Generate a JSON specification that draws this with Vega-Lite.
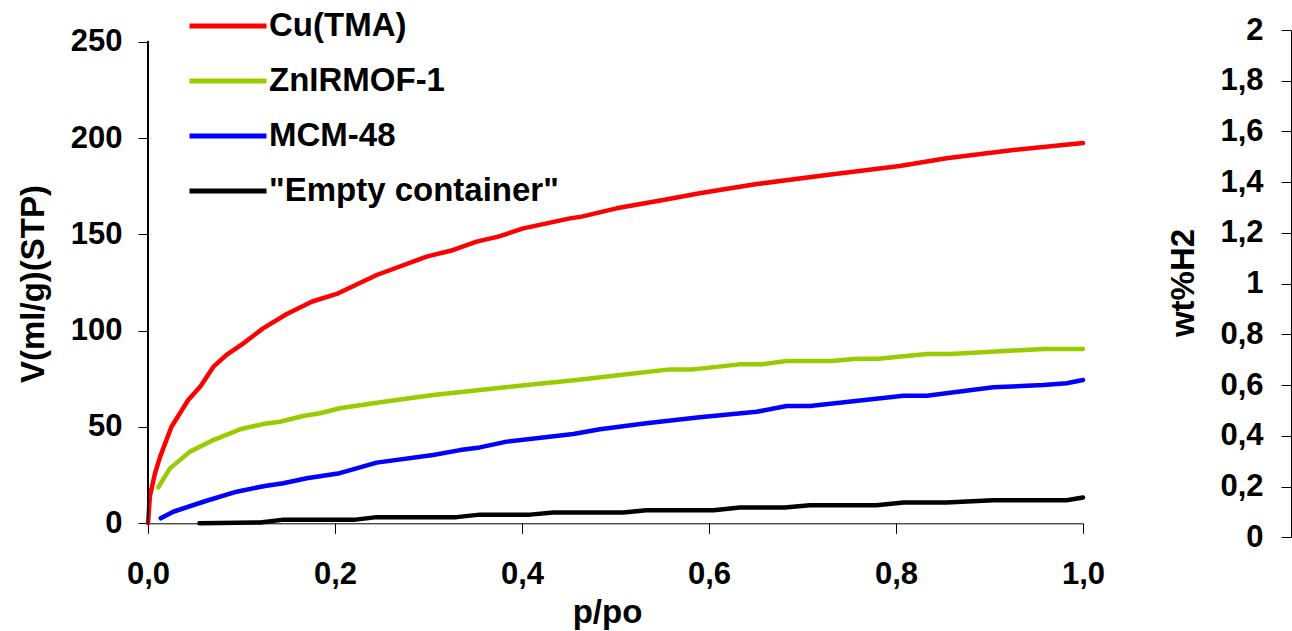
{
  "$schema": "https://vega.github.io/schema/vega-lite/v6.json",
  "width": 935,
  "height": 507.3,
  "autosize": {"type": "none"},
  "padding": {"left": 148, "top": 30, "right": 209, "bottom": 93.7},
  "background": "white",
  "config": {
    "view": {"stroke": null},
    "font": "Liberation Sans",
    "axis": {"grid": false, "domainColor": "black", "tickColor": "black", "domainWidth": 1, "tickWidth": 1, "labelColor": "black", "titleColor": "black", "labelFont": "Liberation Sans", "titleFont": "Liberation Sans", "labelFontWeight": "bold", "titleFontWeight": "bold"}
  },
  "layer": [
    {
      "data": {"values": [
        {"s": "Cu(TMA)", "p": 0, "v": 0},
        {"s": "Cu(TMA)", "p": 0.002, "v": 14},
        {"s": "Cu(TMA)", "p": 0.0075, "v": 26},
        {"s": "Cu(TMA)", "p": 0.013, "v": 34.6},
        {"s": "Cu(TMA)", "p": 0.025, "v": 50},
        {"s": "Cu(TMA)", "p": 0.043, "v": 64},
        {"s": "Cu(TMA)", "p": 0.056, "v": 71},
        {"s": "Cu(TMA)", "p": 0.07, "v": 81.3},
        {"s": "Cu(TMA)", "p": 0.084, "v": 87.4},
        {"s": "Cu(TMA)", "p": 0.102, "v": 93.4},
        {"s": "Cu(TMA)", "p": 0.123, "v": 101.2},
        {"s": "Cu(TMA)", "p": 0.148, "v": 108.5},
        {"s": "Cu(TMA)", "p": 0.175, "v": 115},
        {"s": "Cu(TMA)", "p": 0.2035, "v": 119.4},
        {"s": "Cu(TMA)", "p": 0.2446, "v": 128.9},
        {"s": "Cu(TMA)", "p": 0.298, "v": 138.4},
        {"s": "Cu(TMA)", "p": 0.3266, "v": 141.9},
        {"s": "Cu(TMA)", "p": 0.3515, "v": 146.2},
        {"s": "Cu(TMA)", "p": 0.3747, "v": 148.8},
        {"s": "Cu(TMA)", "p": 0.4014, "v": 153.1},
        {"s": "Cu(TMA)", "p": 0.4264, "v": 155.7},
        {"s": "Cu(TMA)", "p": 0.4513, "v": 158.3},
        {"s": "Cu(TMA)", "p": 0.4638, "v": 159.2},
        {"s": "Cu(TMA)", "p": 0.501, "v": 163.5},
        {"s": "Cu(TMA)", "p": 0.551, "v": 167.8},
        {"s": "Cu(TMA)", "p": 0.59, "v": 171.3},
        {"s": "Cu(TMA)", "p": 0.651, "v": 176.1},
        {"s": "Cu(TMA)", "p": 0.726, "v": 180.8},
        {"s": "Cu(TMA)", "p": 0.804, "v": 185.5},
        {"s": "Cu(TMA)", "p": 0.854, "v": 189.5},
        {"s": "Cu(TMA)", "p": 0.9255, "v": 193.8},
        {"s": "Cu(TMA)", "p": 1.0, "v": 197.4},
        {"s": "ZnIRMOF-1", "p": 0.011, "v": 18.7},
        {"s": "ZnIRMOF-1", "p": 0.0235, "v": 28.5},
        {"s": "ZnIRMOF-1", "p": 0.0449, "v": 37.2},
        {"s": "ZnIRMOF-1", "p": 0.0698, "v": 43.2},
        {"s": "ZnIRMOF-1", "p": 0.0984, "v": 48.8},
        {"s": "ZnIRMOF-1", "p": 0.123, "v": 51.5},
        {"s": "ZnIRMOF-1", "p": 0.141, "v": 52.7},
        {"s": "ZnIRMOF-1", "p": 0.166, "v": 55.7},
        {"s": "ZnIRMOF-1", "p": 0.184, "v": 57.1},
        {"s": "ZnIRMOF-1", "p": 0.205, "v": 59.7},
        {"s": "ZnIRMOF-1", "p": 0.2446, "v": 62.6},
        {"s": "ZnIRMOF-1", "p": 0.305, "v": 66.6},
        {"s": "ZnIRMOF-1", "p": 0.355, "v": 69.2},
        {"s": "ZnIRMOF-1", "p": 0.405, "v": 71.8},
        {"s": "ZnIRMOF-1", "p": 0.4585, "v": 74.4},
        {"s": "ZnIRMOF-1", "p": 0.505, "v": 77},
        {"s": "ZnIRMOF-1", "p": 0.558, "v": 79.9},
        {"s": "ZnIRMOF-1", "p": 0.583, "v": 79.9},
        {"s": "ZnIRMOF-1", "p": 0.633, "v": 82.5},
        {"s": "ZnIRMOF-1", "p": 0.656, "v": 82.5},
        {"s": "ZnIRMOF-1", "p": 0.683, "v": 84.2},
        {"s": "ZnIRMOF-1", "p": 0.731, "v": 84.2},
        {"s": "ZnIRMOF-1", "p": 0.758, "v": 85.4},
        {"s": "ZnIRMOF-1", "p": 0.781, "v": 85.4},
        {"s": "ZnIRMOF-1", "p": 0.833, "v": 87.9},
        {"s": "ZnIRMOF-1", "p": 0.858, "v": 87.9},
        {"s": "ZnIRMOF-1", "p": 0.9576, "v": 90.5},
        {"s": "ZnIRMOF-1", "p": 1.0, "v": 90.5},
        {"s": "MCM-48", "p": 0.0136, "v": 2.6},
        {"s": "MCM-48", "p": 0.027, "v": 6.0},
        {"s": "MCM-48", "p": 0.0627, "v": 11.7},
        {"s": "MCM-48", "p": 0.0948, "v": 16.4},
        {"s": "MCM-48", "p": 0.125, "v": 19.4},
        {"s": "MCM-48", "p": 0.1447, "v": 20.8},
        {"s": "MCM-48", "p": 0.1697, "v": 23.4},
        {"s": "MCM-48", "p": 0.205, "v": 26},
        {"s": "MCM-48", "p": 0.2446, "v": 31.5},
        {"s": "MCM-48", "p": 0.305, "v": 35.5},
        {"s": "MCM-48", "p": 0.3337, "v": 38},
        {"s": "MCM-48", "p": 0.355, "v": 39.4},
        {"s": "MCM-48", "p": 0.3836, "v": 42.4},
        {"s": "MCM-48", "p": 0.4549, "v": 46.4},
        {"s": "MCM-48", "p": 0.4834, "v": 48.8},
        {"s": "MCM-48", "p": 0.533, "v": 51.9},
        {"s": "MCM-48", "p": 0.59, "v": 55},
        {"s": "MCM-48", "p": 0.651, "v": 57.9},
        {"s": "MCM-48", "p": 0.683, "v": 60.9},
        {"s": "MCM-48", "p": 0.708, "v": 60.9},
        {"s": "MCM-48", "p": 0.808, "v": 66.2},
        {"s": "MCM-48", "p": 0.833, "v": 66.2},
        {"s": "MCM-48", "p": 0.904, "v": 70.6},
        {"s": "MCM-48", "p": 0.9576, "v": 71.8},
        {"s": "MCM-48", "p": 0.9825, "v": 72.7},
        {"s": "MCM-48", "p": 1.0, "v": 74.4},
        {"s": "\"Empty container\"", "p": 0.055, "v": 0},
        {"s": "\"Empty container\"", "p": 0.12, "v": 0.4},
        {"s": "\"Empty container\"", "p": 0.145, "v": 1.9},
        {"s": "\"Empty container\"", "p": 0.222, "v": 1.9},
        {"s": "\"Empty container\"", "p": 0.2446, "v": 3.2},
        {"s": "\"Empty container\"", "p": 0.33, "v": 3.2},
        {"s": "\"Empty container\"", "p": 0.355, "v": 4.5},
        {"s": "\"Empty container\"", "p": 0.4086, "v": 4.5},
        {"s": "\"Empty container\"", "p": 0.4335, "v": 5.6},
        {"s": "\"Empty container\"", "p": 0.5083, "v": 5.6},
        {"s": "\"Empty container\"", "p": 0.533, "v": 6.8},
        {"s": "\"Empty container\"", "p": 0.605, "v": 6.8},
        {"s": "\"Empty container\"", "p": 0.633, "v": 8.2},
        {"s": "\"Empty container\"", "p": 0.681, "v": 8.2},
        {"s": "\"Empty container\"", "p": 0.708, "v": 9.4},
        {"s": "\"Empty container\"", "p": 0.779, "v": 9.4},
        {"s": "\"Empty container\"", "p": 0.808, "v": 10.8},
        {"s": "\"Empty container\"", "p": 0.854, "v": 10.8},
        {"s": "\"Empty container\"", "p": 0.904, "v": 12},
        {"s": "\"Empty container\"", "p": 0.9825, "v": 12},
        {"s": "\"Empty container\"", "p": 1.0, "v": 13.4}
      ]},
      "layer": [
        {
          "mark": {"type": "line", "strokeWidth": 4.5, "strokeCap": "round", "strokeJoin": "round"},
          "encoding": {
            "x": {
              "field": "p", "type": "quantitative",
              "scale": {"domain": [0, 1], "nice": false, "zero": false},
              "axis": {
                "values": [0, 0.2, 0.4, 0.6, 0.8, 1.0],
                "labelExpr": "replace(format(datum.value, '.1f'), '.', ',')",
                "offset": -14, "tickSize": 10, "labelPadding": 26,
                "labelFontSize": 31, "labelFlush": false, "labelOverlap": false,
                "title": "p/po", "titleFontSize": 33,
                "titleX": 459, "titleY": 99, "titleBaseline": "alphabetic", "titleAlign": "center", "titleAngle": 0
              }
            },
            "y": {
              "field": "v", "type": "quantitative",
              "scale": {"domain": [-7.27, 256.08], "nice": false, "zero": false},
              "axis": {
                "orient": "left",
                "values": [0, 50, 100, 150, 200, 250],
                "domain": false, "tickSize": 10, "labelPadding": 16,
                "labelFontSize": 31, "labelBaseline": "middle", "labelFlush": false, "labelOverlap": false,
                "title": "V(ml/g)(STP)", "titleFontSize": 33,
                "titleX": -115, "titleY": 253.5, "titleAngle": -90, "titleBaseline": "middle", "titleAlign": "center"
              }
            },
            "color": {
              "field": "s", "type": "nominal",
              "scale": {"domain": ["Cu(TMA)", "ZnIRMOF-1", "MCM-48", "\"Empty container\""], "range": ["#FF0000", "#99CC00", "#0000FF", "#000000"]},
              "legend": {
                "orient": "none", "legendX": 39, "legendY": -24, "title": null,
                "direction": "vertical",
                "symbolType": "stroke", "symbolSize": 5929, "symbolStrokeWidth": 5,
                "clipHeight": 40, "rowPadding": 15, "padding": 0,
                "labelFontSize": 33, "labelFont": "Liberation Sans", "labelFontWeight": "bold", "labelColor": "black",
                "labelOffset": 0, "labelLimit": 600
              }
            }
          }
        },
        {
          "mark": {"type": "rule", "color": "black", "strokeWidth": 1},
          "encoding": {
            "x": {"datum": 0, "type": "quantitative"},
            "y": {"datum": 0, "type": "quantitative"},
            "y2": {"datum": 250}
          }
        }
      ]
    },
    {
      "mark": {"type": "rule", "opacity": 0},
      "encoding": {
        "y": {
          "datum": 0, "type": "quantitative",
          "scale": {"domain": [0, 2], "nice": false, "zero": false},
          "axis": {
            "orient": "left", "offset": -1143,
            "values": [0, 0.2, 0.4, 0.6, 0.8, 1, 1.2, 1.4, 1.6, 1.8, 2],
            "labelExpr": "replace(format(datum.value, '.1~f'), '.', ',')",
            "tickSize": 10, "labelPadding": 18,
            "labelFontSize": 31, "labelBaseline": "middle", "labelFlush": false, "labelOverlap": false,
            "title": "wt%H2", "titleFontSize": 33,
            "titleX": -108, "titleY": 252.5, "titleAngle": -90, "titleBaseline": "middle", "titleAlign": "center"
          }
        }
      }
    }
  ],
  "resolve": {"scale": {"y": "independent"}}
}
